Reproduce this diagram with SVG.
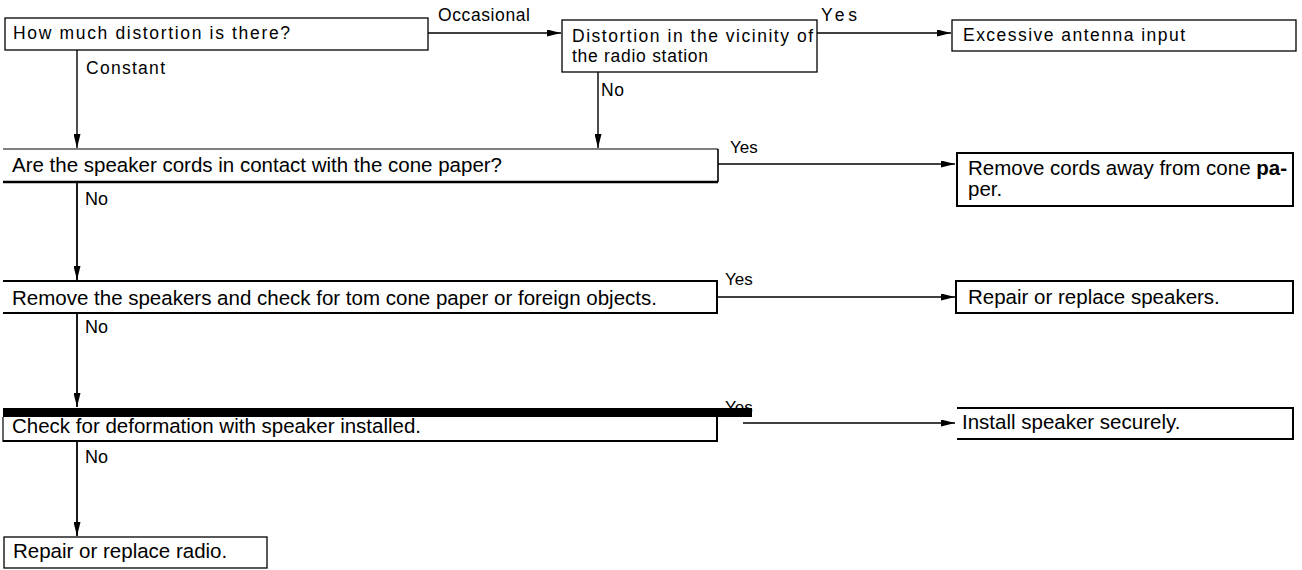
<svg xmlns="http://www.w3.org/2000/svg" width="1302" height="570" viewBox="0 0 1302 570">
<defs>
<marker id="arr" markerWidth="14" markerHeight="7" refX="14" refY="3.5" orient="auto" markerUnits="userSpaceOnUse"><path d="M0,0 L14,3.5 L0,7 z" fill="#000"/></marker>
<style>
.t{font-family:"Liberation Sans",Arial,sans-serif;fill:#000}
.s{font-size:17.5px}
.b{font-size:20.5px}
.y{font-size:17px}
.n{font-size:18px}
.box{fill:none;stroke:#000}
.thin{stroke-width:1.3}
.thick{stroke-width:2}
.c{fill:none;stroke:#000;stroke-width:1.4;marker-end:url(#arr)}
.c2{fill:none;stroke:#000;stroke-width:1.8;marker-end:url(#arr)}
</style>
</defs>
<rect width="1302" height="570" fill="#fff"/>
<g id="connectors">
<path class="c" d="M428,33 H561"/>
<path class="c" d="M817,33 H951"/>
<path class="c" d="M77,50 V148"/>
<path class="c" d="M598,72 V148"/>
<path class="c" d="M718,164 H955"/>
<path class="c2" d="M77,182 V280"/>
<path class="c" d="M717,297 H955"/>
<path class="c2" d="M77,313 V407"/>
<path class="c" d="M743,423 H955"/>
<path class="c2" d="M77,441 V536"/>
<text class="t s" x="438" y="21" textLength="92" lengthAdjust="spacing">Occasional</text>
<text class="t s" x="821" y="21" textLength="36" lengthAdjust="spacing">Yes</text>
<text class="t s" x="86" y="74" textLength="79" lengthAdjust="spacing">Constant</text>
<text class="t s" x="601" y="96" textLength="23" lengthAdjust="spacing">No</text>
<text class="t y" x="730" y="153">Yes</text>
<text class="t n" x="85" y="205">No</text>
<text class="t y" x="725" y="285">Yes</text>
<text class="t n" x="85" y="333">No</text>
<text class="t y" x="725" y="413">Yes</text>
<text class="t n" x="85" y="463">No</text>
</g>
<g id="n1">
<rect class="box thin" x="5" y="18" width="423" height="32"/>
<text class="t s" x="13" y="39" textLength="277" lengthAdjust="spacing">How much distortion is there?</text>
</g>
<g id="n2">
<rect class="box thin" x="562" y="20" width="255" height="52"/>
<text class="t s" x="572" y="42" textLength="241" lengthAdjust="spacing">Distortion in the vicinity of</text>
<text class="t s" x="572" y="62" textLength="136" lengthAdjust="spacing">the radio station</text>
</g>
<g id="n3">
<rect class="box thin" x="952" y="20" width="344" height="31"/>
<text class="t s" x="963" y="41" textLength="222" lengthAdjust="spacing">Excessive antenna input</text>
</g>
<g id="n4">
<path class="box" stroke-width="1.2" d="M3,149 H718"/>
<path class="box" stroke-width="1.6" d="M718,149 V182"/>
<path class="box" stroke-width="2.5" d="M3,182 H718"/>
<text class="t b" x="12" y="172">Are the speaker cords in contact with the cone paper?</text>
</g>
<g id="n5">
<rect class="box thick" x="957" y="153" width="336" height="53"/>
<text class="t b" x="968" y="175">Remove cords away from cone <tspan font-weight="bold">pa-</tspan></text>
<text class="t b" x="968" y="196">per.</text>
</g>
<g id="n6">
<path class="box thick" d="M3,281 H717 V313 H3"/>
<text class="t b" x="12" y="305">Remove the speakers and check for tom cone paper or foreign objects.</text>
</g>
<g id="n7">
<rect class="box thick" x="956" y="281" width="337" height="32"/>
<text class="t b" x="968" y="304">Repair or replace speakers.</text>
</g>
<g id="n8">
<path class="box" stroke-width="1.2" d="M3,417 V442"/>
<path class="box thick" d="M717,416 V441 H3"/>
<rect x="3" y="408" width="749" height="9" fill="#000"/>
<text class="t b" x="12" y="433">Check for deformation with speaker installed.</text>
</g>
<g id="n9">
<path class="box thick" d="M957,408 H1293 V439 H957"/>
<text class="t b" x="962" y="429">Install speaker securely.</text>
</g>
<g id="n10">
<rect class="box thin" x="4" y="537" width="263" height="31"/>
<text class="t b" x="13" y="558">Repair or replace radio.</text>
</g>
</svg>
